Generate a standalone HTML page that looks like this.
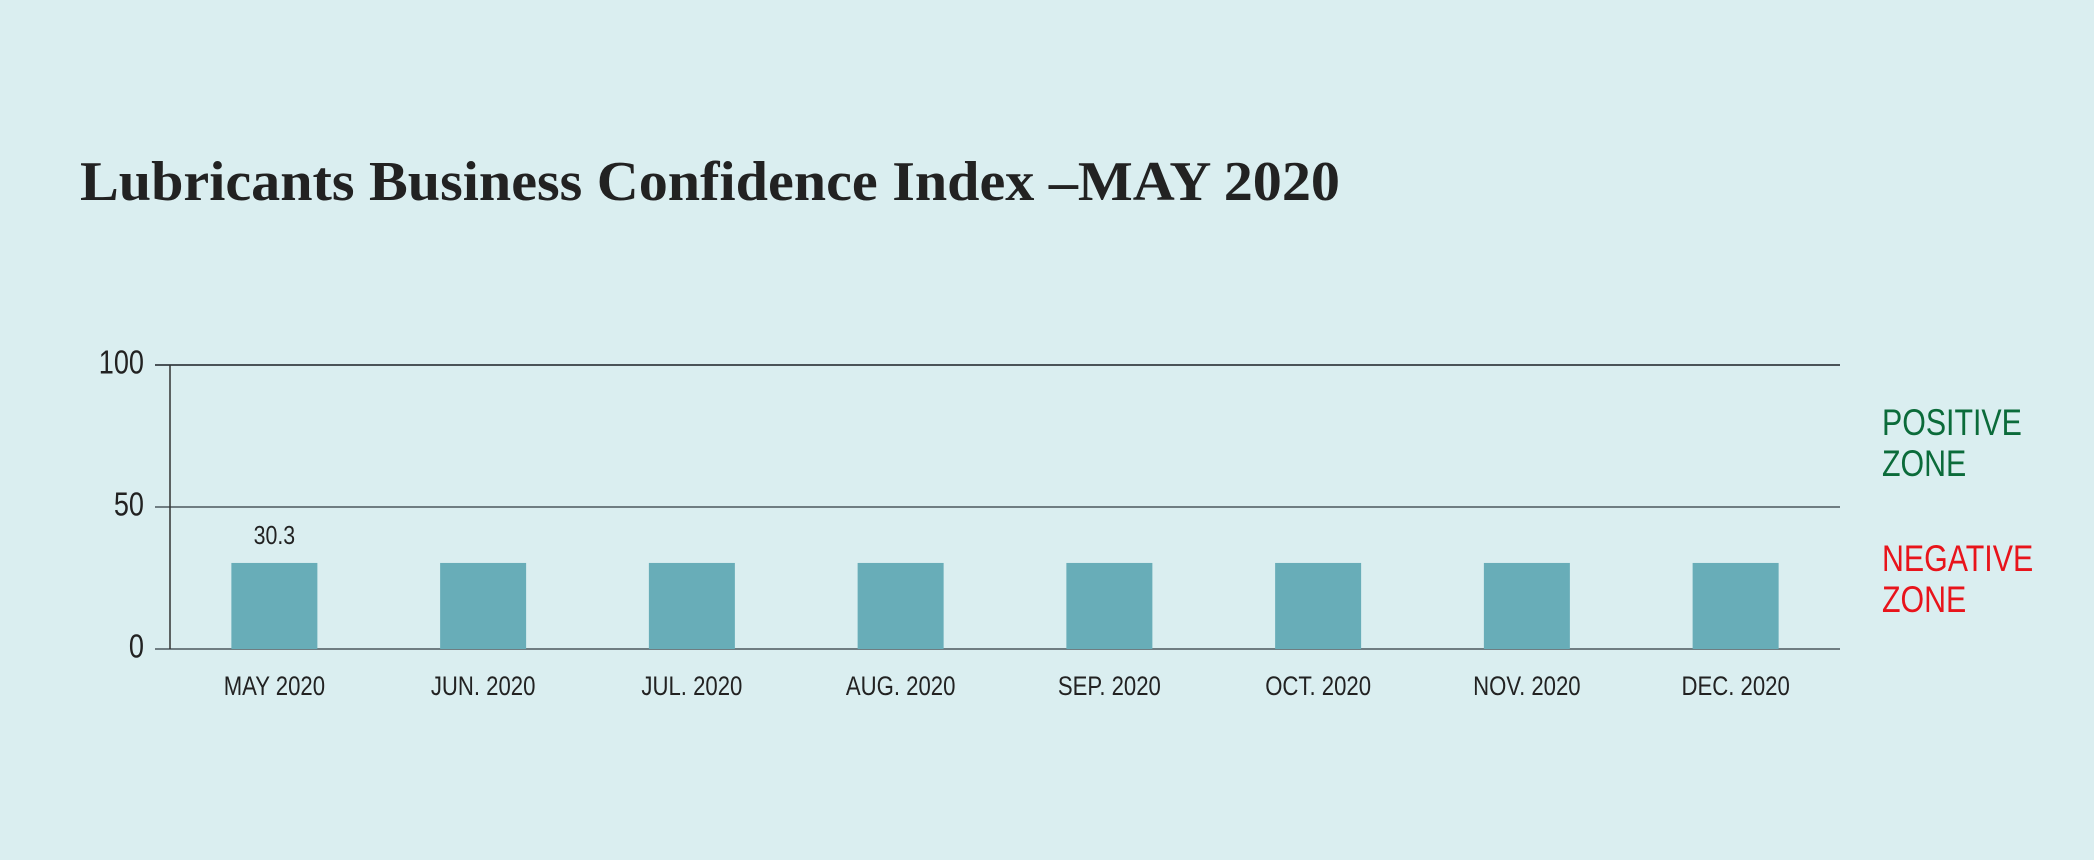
<!DOCTYPE html>
<html><head><meta charset="utf-8"><style>
html,body{margin:0;padding:0;background:#daeef0;}
svg{display:block;}
</style></head><body>
<svg id="chart" width="2094" height="860" xmlns="http://www.w3.org/2000/svg">
<rect x="0" y="0" width="2094" height="860" fill="#daeef0"/>
<text x="80" y="200" font-family="'Liberation Serif', serif" font-weight="bold" font-size="56" fill="#222" textLength="1260" lengthAdjust="spacingAndGlyphs">Lubricants Business Confidence Index –MAY 2020</text>
<g id="grid"></g>
<g id="bars"></g>
<g id="labels"></g>
<text class="narrow" x="1882" y="425" dominant-baseline="middle" font-family="'Liberation Sans',sans-serif" font-size="37" fill="#0b6b3a">POSITIVE</text>
<text class="narrow" x="1882" y="466" dominant-baseline="middle" font-family="'Liberation Sans',sans-serif" font-size="37" fill="#0b6b3a">ZONE</text>
<text class="narrow" x="1882" y="561" dominant-baseline="middle" font-family="'Liberation Sans',sans-serif" font-size="37" fill="#e8141b">NEGATIVE</text>
<text class="narrow" x="1882" y="602" dominant-baseline="middle" font-family="'Liberation Sans',sans-serif" font-size="37" fill="#e8141b">ZONE</text>
</svg>
<script>
const categories = ["MAY 2020","JUN. 2020","JUL. 2020","AUG. 2020","SEP. 2020","OCT. 2020","NOV. 2020","DEC. 2020"];
const values = [30.3,30.3,30.3,30.3,30.3,30.3,30.3,30.3];
const valueLabels = ["30.3","","","","","","",""];
const yTicks = [0,50,100];

const NS="http://www.w3.org/2000/svg";
const x0=170, x1=1840, yBase=649, yTop=365, yMax=100;
const band=(x1-x0)/categories.length, barW=86;
function yScale(v){return yBase-(v/yMax)*(yBase-yTop);}
function xCenter(i){return x0+band*(i+0.5);}
function mk(tag,attrs,parent){const e=document.createElementNS(NS,tag);for(const k in attrs)e.setAttribute(k,attrs[k]);parent.appendChild(e);return e;}
const grid=document.getElementById('grid'),bars=document.getElementById('bars'),labels=document.getElementById('labels');
const font="'Liberation Sans',sans-serif";

yTicks.forEach(t=>{
  const y=yScale(t);
  const l=mk('line',{x1:155,x2:x1,y1:y,y2:y,stroke:t===100?'#4a5358':'#6f7d82','stroke-width':2},grid);
  
  
  const tx=mk('text',{x:144,y:y,'text-anchor':'end','dominant-baseline':'middle','font-family':font,'font-size':33,fill:'#222',class:'narrow'},labels);
  tx.textContent=t;
  
  
});
const ax=mk('line',{x1:x0,x2:x0,y1:yTop,y2:yBase,stroke:'#333','stroke-width':1.5},grid);



categories.forEach((c,i)=>{
  const cx=xCenter(i), y=yScale(values[i]);
  const r=mk('rect',{x:cx-barW/2,y:y,width:barW,height:yBase-y,fill:'#68adb8'},bars);
  
  
  const t=mk('text',{x:cx,y:688,'text-anchor':'middle','dominant-baseline':'middle','font-family':font,'font-size':27,fill:'#222',class:'narrow'},labels);
  t.textContent=c;
  
  
  if(valueLabels[i]){
    const v=mk('text',{x:cx,y:537,'text-anchor':'middle','dominant-baseline':'middle','font-family':font,'font-size':26,fill:'#222',class:'narrow'},labels);
    v.textContent=valueLabels[i];
    
    
  }
});
// condense text horizontally to mimic a narrow typeface
document.querySelectorAll('text.narrow').forEach(t=>{
  const w=t.getComputedTextLength();
  t.setAttribute('textLength',(w*0.82).toFixed(1));
  t.setAttribute('lengthAdjust','spacingAndGlyphs');
});
</script>
</body></html>
